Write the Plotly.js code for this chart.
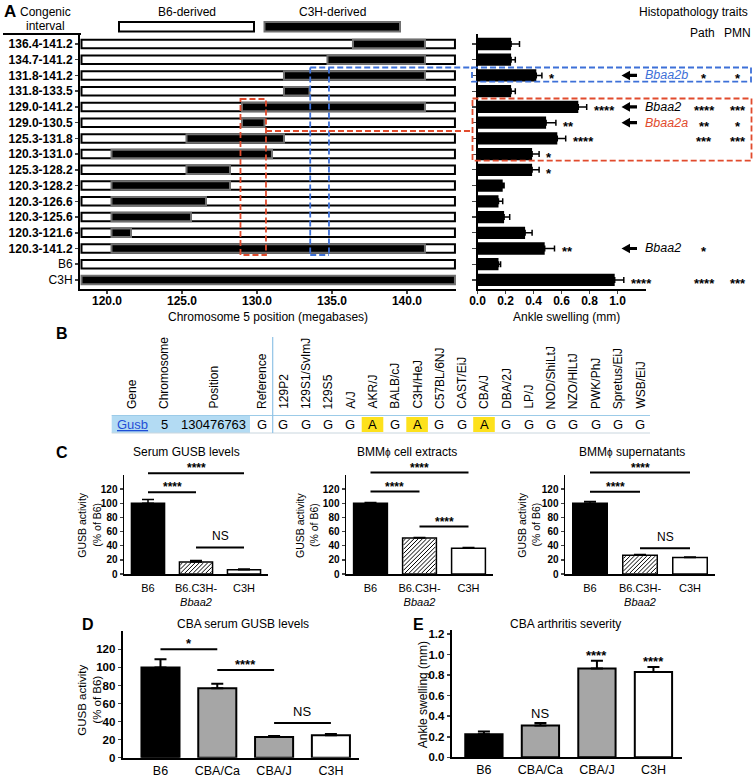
<!DOCTYPE html>
<html><head><meta charset="utf-8">
<script src="https://cdn.plot.ly/plotly-3.0.1.min.js"></script>
<style>html,body{margin:0;padding:0;background:#fff}</style>
</head><body><div id="chart" style="width:756px;height:777px"></div>
<script>
// ================= DATA =================
const congenicIntervals = ['136.4-141.2','134.7-141.2','131.8-141.2','131.8-133.5','129.0-141.2','129.0-130.5','125.3-131.8','120.3-131.0','125.3-128.2','120.3-128.2','120.3-126.6','120.3-125.6','120.3-121.6','120.3-141.2','B6','C3H'];
const c3hStart = [136.4,134.7,131.8,131.8,129.0,129.0,125.3,120.3,125.3,120.3,120.3,120.3,120.3,120.3,null,118.3];
const c3hEnd   = [141.2,141.2,141.2,133.5,141.2,130.5,131.8,131.0,128.2,128.2,126.6,125.6,121.6,141.2,null,143.2];
const chromWindow = [118.3, 143.2];
const mbTicks = [120,125,130,135,140];
const ankleSwelling = [0.24,0.24,0.42,0.24,0.72,0.49,0.57,0.39,0.39,0.18,0.15,0.19,0.34,0.48,0.15,0.98];
const ankleSEM      = [0.06,0.03,0.04,0.03,0.06,0.07,0.06,0.05,0.05,0.01,0.03,0.04,0.05,0.07,0.015,0.065];
const swellTicks = [0,0.2,0.4,0.6,0.8,1.0];
const ankleSig = ['','','*','','****','**','****','*','*','','','','','**','','****'];
const pathSig  = ['','','*','','****','**','***','','','','','','','*','','****'];
const pmnSig   = ['','','*','','***','*','***','','','','','','','','','***'];
const locusNames = ['','','Bbaa2b','','Bbaa2','Bbaa2a','','','','','','','','Bbaa2','',''];
const bbaa2aInterval = [128.9, 130.6];
const bbaa2bInterval = [133.55, 134.8];

const tableHeaders = ['Gene','Chromosome','Position','Reference','129P2','129S1/SvImJ','129S5','A/J','AKR/J','BALB/cJ','C3H/HeJ','C57BL/6NJ','CAST/EiJ','CBA/J','DBA/2J','LP/J','NOD/ShiLtJ','NZO/HlLtJ','PWK/PhJ','Spretus/EiJ','WSB/EiJ'];
const tableRow = ['Gusb','5','130476763','G','G','G','G','G','A','G','A','G','G','A','G','G','G','G','G','G','G'];

const gusbGroups = ['B6','B6.C3H-<br><i>Bbaa2</i>','C3H'];
const gusbHatched = [false,true,false];
const serumGusb = [100,17,6];    const serumErr = [5.5,2,1];
const cellGusb  = [100,51,36.5]; const cellErr  = [1,0.7,0.8];
const supGusb   = [100,26.5,23.5]; const supErr = [2.5,1,0.5];
const serumSig = [[0,2,142.5,'****'],[0,1,115.5,'****'],[1,2,37.5,'NS']];
const cellSig  = [[0,2,143.5,'****'],[0,1,116.5,'****'],[1,2,67,'****']];
const supSig   = [[0,2,143.5,'****'],[0,1,116.2,'****'],[1,2,36.5,'NS']];

const cbaGroups = ['B6','CBA/Ca','CBA/J','C3H'];
const cbaGusb = [100,77,23,25]; const cbaGusbErr = [9,5,1,1.3];
const cbaGusbSig = [[0,1,120,'*'],[1,2,97,'****'],[2,3,38.3,'NS']];
const cbaSwelling = [0.225,0.31,0.865,0.83]; const cbaSwellErr = [0.025,0.025,0.075,0.05];
const cbaSwellSig = ['','NS','****','****'];

// ================= LAYOUT GEOMETRY =================
const W = 756, H = 777;
const FONT = 'Liberation Sans, Arial, Helvetica, sans-serif';
const px = x => x / W;
const py = y => 1 - y / H;
const GA  = {x0:80, x1:456, xr:[118.2,143.27], y0:34, y1:289, yr:[15.575,-0.636]};
const GA2 = {x0:477.5, x1:645.5, xr:[0,1.2]};
const GC1 = {x0:124, x1:268, xr:[-0.5,2.5], y0:475, y1:574, yr:[0,140]};
const GC2 = {x0:346, x1:493, xr:[-0.5,2.5], y0:475, y1:574, yr:[0,140]};
const GC3 = {x0:565, x1:715, xr:[-0.5,2.5], y0:475, y1:574, yr:[0,140]};
const GD  = {x0:122.7, x1:359.3, xr:[-0.665,3.5], y0:631.3, y1:757.7, yr:[0,140]};
const GE  = {x0:451.7, x1:681.7, xr:[-0.57,3.5], y0:630.4, y1:757.3, yr:[0,1.235]};
const GUSB_BAR_W = 0.69;
const rowPx = i => GA.y0 + (i - GA.yr[1]) / (GA.yr[0] - GA.yr[1]) * (GA.y1 - GA.y0);
const mbPx = v => GA.x0 + (v - GA.xr[0]) / (GA.xr[1] - GA.xr[0]) * (GA.x1 - GA.x0);
const catPx = (g,i) => g.x0 + (i - g.xr[0]) / (g.xr[1] - g.xr[0]) * (g.x1 - g.x0);
const catW = g => (g.x1 - g.x0) / (g.xr[1] - g.xr[0]);
const valPx = (g,v) => g.y1 - (v - g.yr[0]) / (g.yr[1] - g.yr[0]) * (g.y1 - g.y0);

const shapes = [];
const ann = [];
function T(text, x, y, size, o) {
  const a = {text:text, x:px(x), y:py(y), xref:'paper', yref:'paper', showarrow:false,
    xanchor:'center', yanchor:'middle', font:{size:size, color:'black', family:FONT}};
  ann.push(Object.assign(a, o || {}));
}
function line(x0,y0,x1,y1,color,width,dash) {
  shapes.push({type:'line', xref:'paper', yref:'paper', x0:px(x0), y0:py(y0), x1:px(x1), y1:py(y1),
    line:{color:color, width:width, dash:dash || 'solid'}});
}
function rect(x0,y0,x1,y1,fill,lc,lw,dash) {
  shapes.push({type:'rect', xref:'paper', yref:'paper', x0:px(x0), y0:py(y0), x1:px(x1), y1:py(y1),
    fillcolor:fill, line:{color:lc, width:lw, dash:dash || 'solid'}});
}
function pathP(pts, fill) {
  const d = pts.map((p,k) => (k ? 'L' : 'M') + px(p[0]) + ',' + py(p[1])).join(' ') + ' Z';
  shapes.push({type:'path', xref:'paper', yref:'paper', path:d, fillcolor:fill, line:{width:0}});
}
// diagonal "/" hatch inside a pixel rectangle
function hatch(x0, yt, x1, yb, step) {
  for (let k = x0 + yt + step/2; k < x1 + yb; k += step) {
    const xa = Math.max(x0, k - yb), xb = Math.min(x1, k - yt);
    if (xb - xa < 0.3) continue;
    line(xa, k - xa, xb, k - xb, 'black', 1);
  }
}

// ================= TRACES =================
const traces = [];
const whiteIdx = congenicIntervals.map((_,i)=>i).filter(i => congenicIntervals[i] !== 'C3H');
traces.push({type:'bar', orientation:'h', xaxis:'x', yaxis:'y',
  y: whiteIdx.map(i => congenicIntervals[i]),
  base: whiteIdx.map(() => chromWindow[0]),
  x: whiteIdx.map(() => chromWindow[1] - chromWindow[0]),
  width:0.54, marker:{color:'white', line:{color:'black', width:2}}, hoverinfo:'skip'});
const segIdx = congenicIntervals.map((_,i)=>i).filter(i => c3hStart[i] !== null);
traces.push({type:'bar', orientation:'h', xaxis:'x', yaxis:'y',
  y: segIdx.map(i => congenicIntervals[i]),
  base: segIdx.map(i => c3hStart[i]),
  x: segIdx.map(i => c3hEnd[i] - c3hStart[i]),
  width:0.54, marker:{color:'black', line:{color:'#707070', width:2}}, hoverinfo:'skip'});
traces.push({type:'bar', orientation:'h', xaxis:'x2', yaxis:'y2',
  y: congenicIntervals, x: ankleSwelling, width:0.78,
  marker:{color:'black', line:{width:0}},
  error_x:{type:'data', array:ankleSEM, arrayminus:ankleSEM.map(()=>0), symmetric:false, color:'black', thickness:1.5, width:3}});

function gusbTrace(xa, ya, g, vals, errs) {
  gusbGroups.forEach((_, i) => {
    if (!gusbHatched[i]) return;
    const half = GUSB_BAR_W/2 * catW(g) - 0.9;
    hatch(catPx(g,i) - half, valPx(g, vals[i]) + 0.9, catPx(g,i) + half, valPx(g, 0) - 0.9, 4.2);
  });
  return {type:'bar', xaxis:xa, yaxis:ya, x:gusbGroups, y:vals, width:GUSB_BAR_W,
    marker:{color:gusbGroups.map((_,i) => i === 0 ? 'black' : 'white'), line:{color:'black', width:1.5}},
    error_y:{type:'data', array:errs, arrayminus:errs.map(()=>0), symmetric:false, color:'black', thickness:1.5, width:6}};
}
traces.push(gusbTrace('x3','y3',GC1,serumGusb,serumErr));
traces.push(gusbTrace('x4','y4',GC2,cellGusb,cellErr));
traces.push(gusbTrace('x5','y5',GC3,supGusb,supErr));
const cbaColors = ['black','#a6a6a6','#a6a6a6','white'];
traces.push({type:'bar', xaxis:'x6', yaxis:'y6', x:cbaGroups, y:cbaGusb, width:0.67,
  marker:{color:cbaColors, line:{color:'black', width:2}},
  error_y:{type:'data', array:cbaGusbErr, arrayminus:cbaGusbErr.map(()=>0), symmetric:false, color:'black', thickness:2, width:6}});
traces.push({type:'bar', xaxis:'x7', yaxis:'y7', x:cbaGroups, y:cbaSwelling, width:0.66,
  marker:{color:cbaColors, line:{color:'black', width:2}},
  error_y:{type:'data', array:cbaSwellErr, arrayminus:cbaSwellErr.map(()=>0), symmetric:false, color:'black', thickness:2, width:6}});

// ================= AXES =================
function dom(g){ return {x:[px(g.x0),px(g.x1)], y:[py(g.y1),py(g.y0)]}; }
const base = {showgrid:false, zeroline:false, showline:true, linecolor:'black', fixedrange:true};
const layout = {
  width:W, height:H, margin:{l:0,r:0,t:0,b:0}, paper_bgcolor:'white', plot_bgcolor:'rgba(0,0,0,0)',
  font:{family:FONT, size:12, color:'black'}, showlegend:false, barmode:'overlay', hovermode:false,
  xaxis: Object.assign({}, base, {domain:dom(GA).x, range:GA.xr, anchor:'y', linewidth:2,
    tickmode:'array', tickvals:mbTicks, ticktext:mbTicks.map(v=>v.toFixed(1)), tickfont:{size:12, weight:700},
    ticks:'outside', ticklen:3, tickwidth:1.5, ticklabelstandoff:-3}),
  yaxis: Object.assign({}, base, {domain:dom(GA).y, type:'category', categoryarray:congenicIntervals, range:GA.yr, anchor:'x', linewidth:2,
    tickmode:'array', tickvals:congenicIntervals, ticktext:congenicIntervals.map(l => (l==='B6'||l==='C3H') ? l : '<b>'+l+'</b>'),
    tickfont:{size:12}, ticks:'outside', ticklen:3, tickwidth:1.5}),
  xaxis2: Object.assign({}, base, {domain:[px(GA2.x0),px(GA2.x1)], range:GA2.xr, anchor:'y2', linewidth:1.5,
    tickmode:'array', tickvals:swellTicks, ticktext:swellTicks.map(v=>v.toFixed(1)), tickfont:{size:12, weight:700},
    ticks:'outside', ticklen:3, tickwidth:1.5, ticklabelstandoff:-3}),
  yaxis2: Object.assign({}, base, {domain:dom(GA).y, type:'category', categoryarray:congenicIntervals, range:GA.yr, anchor:'x2', linewidth:1.5,
    showticklabels:false, ticks:'outside', ticklen:4, tickwidth:1.2})
};
function cAxes(n, g, cats, ytv, yfmt, xfs, yfs, lw, xtl) {
  layout['xaxis'+n] = Object.assign({}, base, {domain:dom(g).x, type:'category', categoryarray:cats, range:g.xr, anchor:'y'+n, linewidth:lw,
    ticks: xtl ? 'outside' : '', ticklen:xtl || 0, tickcolor:'rgba(0,0,0,0)', tickfont:{size:xfs}});
  layout['yaxis'+n] = Object.assign({}, base, {domain:dom(g).y, range:g.yr, anchor:'x'+n, linewidth:lw,
    tickmode:'array', tickvals:ytv, ticktext:ytv.map(yfmt), tickfont:{size:yfs, weight:700},
    ticks:'outside', ticklen:3, tickwidth:1.5});
}
const gusbTicks = [0,20,40,60,80,100,120];
cAxes(3, GC1, gusbGroups, gusbTicks, v=>String(v), 11, 10, 1.5, 3);
cAxes(4, GC2, gusbGroups, gusbTicks, v=>String(v), 11, 10, 1.5, 3);
cAxes(5, GC3, gusbGroups, gusbTicks, v=>String(v), 11, 10, 1.5, 3);
cAxes(6, GD, cbaGroups, gusbTicks, v=>String(v), 12.5, 11.5, 2, 0);
cAxes(7, GE, cbaGroups, [0,0.2,0.4,0.6,0.8,1.0,1.2], v=>v.toFixed(1), 12.5, 11.5, 2, 0);

// ================= PANEL A DECORATION =================
T('<b>A</b>', 10, 12, 17);
T('Congenic', 45.5, 11.5, 12);
T('interval', 45, 25.5, 12);
line(3, 34, 81, 34, 'black', 2);
T('B6-derived', 186.5, 11.5, 12);
T('C3H-derived', 332, 11.5, 12);
rect(119, 22, 254, 31.5, 'white', 'black', 2);
rect(264.5, 22, 400, 31.5, 'black', '#707070', 2);
T('Histopathology traits', 693, 11.5, 12);
T('Path', 702, 33.5, 12);
T('PMN', 737.5, 33.5, 12);
T('Chromosome 5 position (megabases)', 268, 317, 12);
T('Ankle swelling (mm)', 566, 317, 12);

const BLUE = '#3d70d8', RED = '#e14b2d';
const DASH = '6px,3px';
const bx0 = mbPx(bbaa2bInterval[0]), bx1 = mbPx(bbaa2bInterval[1]);
line(bx0, 67.5, bx0, 255, BLUE, 1.8, DASH);
line(bx1, 67.5, bx1, 255, BLUE, 1.8, DASH);
line(bx0, 255, bx1, 255, BLUE, 1.8, DASH);
line(bx0, 67.5, 472, 67.5, BLUE, 1.8, DASH);
rect(472, 67.5, 751, 81.7, 'rgba(0,0,0,0)', BLUE, 1.8, DASH);
const rx0 = mbPx(bbaa2aInterval[0]), rx1 = mbPx(bbaa2aInterval[1]);
rect(rx0, 99, rx1, 255, 'rgba(0,0,0,0)', RED, 1.8, DASH);
line(rx1, 131, 472.5, 131, RED, 1.8, DASH);
rect(472.5, 98.5, 751.5, 160.7, 'rgba(0,0,0,0)', RED, 1.8, DASH);

congenicIntervals.forEach((_, i) => {
  if (ankleSig[i]) ann.push({text:'<b>'+ankleSig[i]+'</b>', x:ankleSwelling[i]+ankleSEM[i], y:i, xref:'x2', yref:'y2',
    showarrow:false, xanchor:'left', yanchor:'middle', xshift:5, yshift:-3.5, font:{size:13, color:'black', family:FONT}});
  if (pathSig[i]) ann.push({text:'<b>'+pathSig[i]+'</b>', x:px(704), y:i, xref:'paper', yref:'y2',
    showarrow:false, xanchor:'center', yanchor:'middle', yshift:-3.5, font:{size:13, color:'black', family:FONT}});
  if (pmnSig[i]) ann.push({text:'<b>'+pmnSig[i]+'</b>', x:px(738), y:i, xref:'paper', yref:'y2',
    showarrow:false, xanchor:'center', yanchor:'middle', yshift:-3.5, font:{size:13, color:'black', family:FONT}});
  if (locusNames[i]) {
    const col = locusNames[i] === 'Bbaa2b' ? BLUE : (locusNames[i] === 'Bbaa2a' ? RED : 'black');
    ann.push({text:'<i>'+locusNames[i]+'</i>', x:px(643), y:i, xref:'paper', yref:'y2',
      showarrow:false, xanchor:'left', yanchor:'middle', font:{size:12.5, color:col, family:FONT}});
    const yc = rowPx(i);
    pathP([[621.5,yc],[630,yc-4.8],[630,yc-1.6],[637,yc-1.6],[637,yc+1.6],[630,yc+1.6],[630,yc+4.8]], 'black');
  }
});

// ================= PANEL B TABLE =================
T('<b>B</b>', 62, 334, 16);
const strainX = tableHeaders.slice(4).map((_,k) => 283.3 + 22.3*k);
const colX = [132, 164, 213, 262].concat(strainX);
rect(111.7, 415.5, 250, 433, '#b3dbf3', 'rgba(0,0,0,0)', 0);
tableRow.forEach((v, j) => {
  if (j > 3 && v !== tableRow[3]) rect(colX[j]-10.8, 417, colX[j]+10.8, 432, '#fde11c', 'rgba(0,0,0,0)', 0);
});
line(111.7, 415.5, 650, 415.5, '#9ccbe8', 1);
line(111.7, 433, 650, 433, '#c9d6de', 1);
line(272.7, 337, 272.7, 433, '#8fc3e6', 1.2);
tableHeaders.forEach((h, j) => T(h, colX[j], 411, 12, {textangle:-90, yanchor:'bottom'}));
tableRow.forEach((v, j) => {
  if (j === 0) T('<u>'+v+'</u>', colX[j], 424.5, 13, {font:{size:13, color:'#1f4fd6', family:FONT}});
  else T(v, colX[j], 424.5, 13);
});

// ================= PANEL C/D/E TEXT =================
T('<b>C</b>', 62, 452, 16);
T('Serum GUSB levels', 186, 452, 12);
T('BMM<span style="font-size:10px">ϕ</span> cell extracts', 407, 452, 12);
T('BMM<span style="font-size:10px">ϕ</span> supernatants', 632, 452, 12);
[[81.7,96.7,525],[300,314,525],[521.7,535.5,525]].forEach(p => {
  T('GUSB activity', p[0], p[2], 10.5, {textangle:-90});
  T('(% of B6)', p[1], p[2], 10.5, {textangle:-90});
});
T('<b>D</b>', 88, 624, 16);
T('CBA serum GUSB levels', 243, 624, 12);
T('GUSB activity', 81.7, 700, 11.5, {textangle:-90});
T('(% of B6)', 96.7, 700, 11.5, {textangle:-90});
T('<b>E</b>', 419, 624, 16);
T('CBA arthritis severity', 565, 624, 12);
T('Ankle swelling (mm)', 423.3, 695, 12, {textangle:-90});

function sigLines(g, list, fs) {
  list.forEach(s => {
    const x0 = catPx(g, s[0]), x1 = catPx(g, s[1]), y = valPx(g, s[2]);
    line(x0, y, x1, y, 'black', 2);
    const star = s[3].indexOf('*') >= 0;
    T(star ? '<b>'+s[3]+'</b>' : s[3], (x0+x1)/2, star ? y+4 : y-2, fs, {yanchor:'bottom'});
  });
}
sigLines(GC1, serumSig, 12);
sigLines(GC2, cellSig, 12);
sigLines(GC3, supSig, 12);
sigLines(GD, cbaGusbSig, 13);
cbaSwellSig.forEach((s, i) => {
  if (!s) return;
  const star = s.indexOf('*') >= 0;
  ann.push({text: star ? '<b>'+s+'</b>' : s, x:i, y:cbaSwelling[i]+cbaSwellErr[i], xref:'x7', yref:'y7',
    showarrow:false, xanchor:'center', yanchor:'bottom', yshift: star ? -4 : 0,
    font:{size:13, color:'black', family:FONT}});
});

layout.shapes = shapes;
layout.annotations = ann;
Plotly.newPlot('chart', traces, layout, {displayModeBar:false, staticPlot:true});
</script></body></html>
